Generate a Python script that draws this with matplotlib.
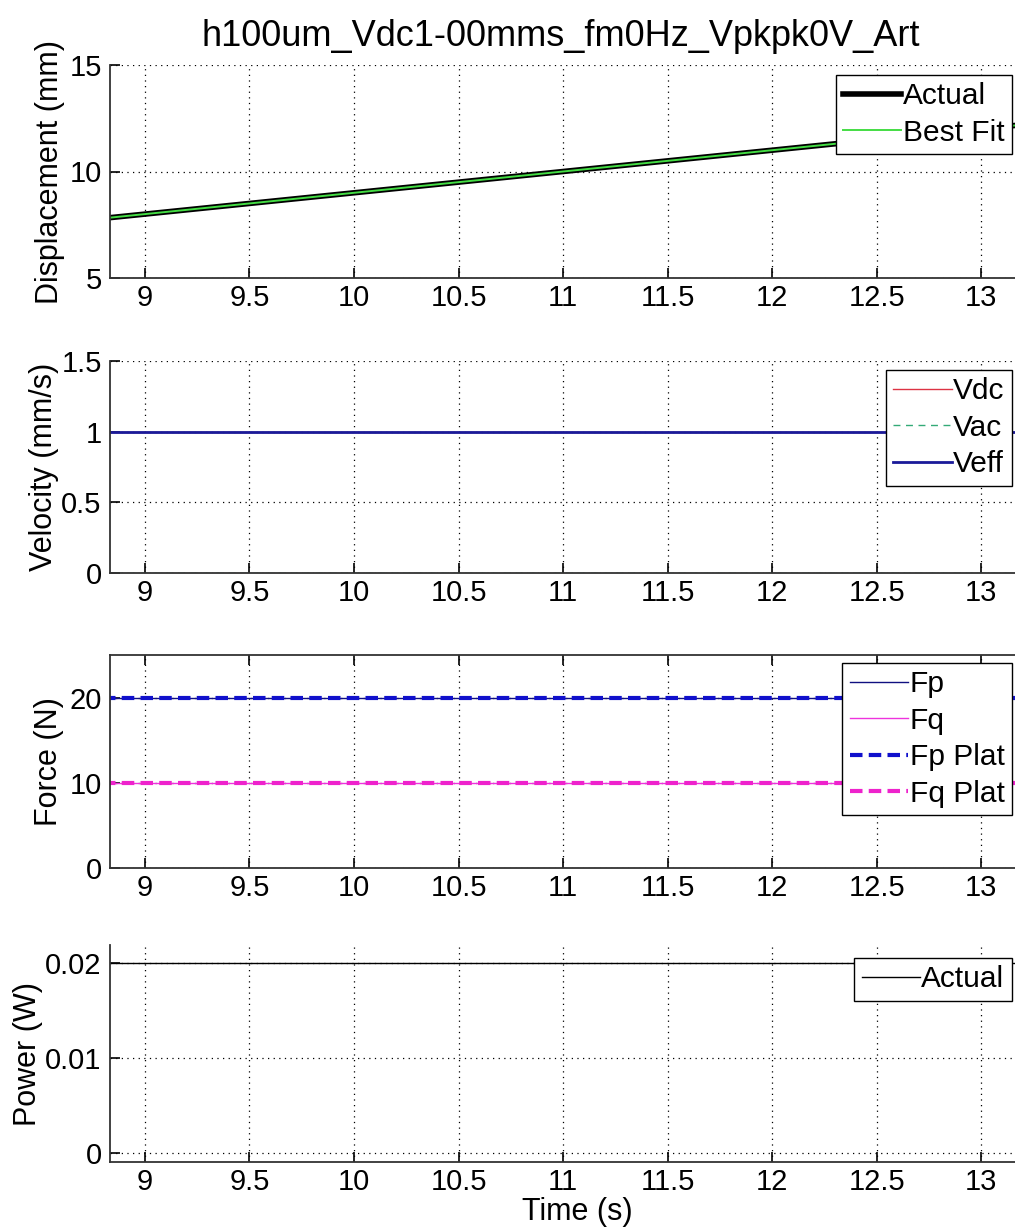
import matplotlib.pyplot as plt

plt.rcParams['font.family'] = ['Liberation Sans', 'DejaVu Sans']
plt.rcParams['font.size'] = 21

title = "h100um_Vdc1-00mms_fm0Hz_Vpkpk0V_Art"

# time samples
time = [8.8, 9, 10, 11, 12, 13, 13.4]
disp_actual = [7.8, 8, 9, 10, 11, 12, 12.4]
disp_fit = [7.8, 8, 9, 10, 11, 12, 12.4]
vdc = [1, 1, 1, 1, 1, 1, 1]
vac = [0, 0, 0, 0, 0, 0, 0]
veff = [1, 1, 1, 1, 1, 1, 1]
fp = [20, 20, 20, 20, 20, 20, 20]
fq = [10, 10, 10, 10, 10, 10, 10]
fp_plat = [20, 20, 20, 20, 20, 20, 20]
fq_plat = [10, 10, 10, 10, 10, 10, 10]
power = [0.02, 0.02, 0.02, 0.02, 0.02, 0.02, 0.02]

xticks = [9, 9.5, 10, 10.5, 11, 11.5, 12, 12.5, 13]
xticklabels = ["9", "9.5", "10", "10.5", "11", "11.5", "12", "12.5", "13"]

W, H = 1015, 1231
fig = plt.figure(figsize=(W / 100, H / 100), dpi=100)

x0, x1 = 110, 1044
xlim = (8.833, 13.3)


def make_ax(top, bottom):
    return fig.add_axes([x0 / W, 1 - bottom / H, (x1 - x0) / W, (bottom - top) / H])


def style(ax, ylim, yticks, yticklabels, ylabel, label_x, top_spine=False):
    ax.set_xlim(*xlim)
    ax.set_ylim(*ylim)
    ax.set_xticks(xticks)
    ax.set_xticklabels(xticklabels)
    ax.set_yticks(yticks)
    ax.set_yticklabels(yticklabels)
    ax.grid(True, color='black', linestyle=(0, (1, 3.5)), linewidth=0.9)
    ax.set_axisbelow(True)
    ax.tick_params(direction='in', length=7, width=1.2, pad=6, labelsize=21,
                   top=top_spine, right=False)
    ax.tick_params(axis='x', pad=4)
    for s in ['left', 'bottom', 'top']:
        ax.spines[s].set_linewidth(1.3)
        ax.spines[s].set_color('#333333')
    ax.spines['right'].set_visible(False)
    ax.spines['top'].set_visible(top_spine)
    ax.set_ylabel(ylabel, fontsize=22)
    ax.yaxis.set_label_coords(label_x, 0.5)


def legend(ax, top_px):
    leg = ax.legend(loc='upper right', bbox_to_anchor=(1012 / W, 1 - top_px / H),
                    bbox_transform=fig.transFigure, fancybox=False, framealpha=1,
                    edgecolor='black', fontsize=21.5, handlelength=1.95,
                    handletextpad=0.05, borderpad=0.25, labelspacing=0.28,
                    borderaxespad=0)
    leg.get_frame().set_linewidth(1.0)
    return leg


ax1 = make_ax(65, 278)
ax1.plot(time, disp_actual, color='black', lw=4, label='Actual')
ax1.plot(time, disp_fit, color='#44dd44', lw=1.4, label='Best Fit')
style(ax1, (5, 15), [5, 10, 15], ["5", "10", "15"], 'Displacement (mm)', -0.048)
ax1.set_title(title, fontsize=26, pad=14, x=0.483)
legend(ax1, 75)

ax2 = make_ax(361, 573)
ax2.plot(time, vdc, color='#dd3344', lw=1, label='Vdc')
ax2.plot(time, vac, color='#33aa77', lw=1, ls=(0, (5, 4)), label='Vac')
ax2.plot(time, veff, color='#1a1a99', lw=2, label='Veff')
style(ax2, (0, 1.5), [0, 0.5, 1, 1.5], ["0", "0.5", "1", "1.5"], 'Velocity (mm/s)', -0.055)
legend(ax2, 370)

ax3 = make_ax(655, 868)
ax3.plot(time, fp, color='#101080', lw=1, label='Fp')
ax3.plot(time, fq, color='#ee33dd', lw=1, label='Fq')
ax3.plot(time, fp_plat, color='#1010cc', lw=3, ls=(0, (3, 1.5)), label='Fp Plat')
ax3.plot(time, fq_plat, color='#ee22cc', lw=3, ls=(0, (3, 1.5)), label='Fq Plat')
style(ax3, (0, 25), [0, 10, 20], ["0", "10", "20"], 'Force (N)', -0.049, top_spine=True)
legend(ax3, 663)

ax4 = make_ax(945, 1162)
ax4.plot(time, power, color='black', lw=1, label='Actual')
style(ax4, (-0.001, 0.0219), [0, 0.01, 0.02], ["0", "0.01", "0.02"], 'Power (W)', -0.072)
ax4.set_xlabel('Time (s)', fontsize=22, labelpad=1)
legend(ax4, 958)

fig.savefig('out.png', dpi=100)
